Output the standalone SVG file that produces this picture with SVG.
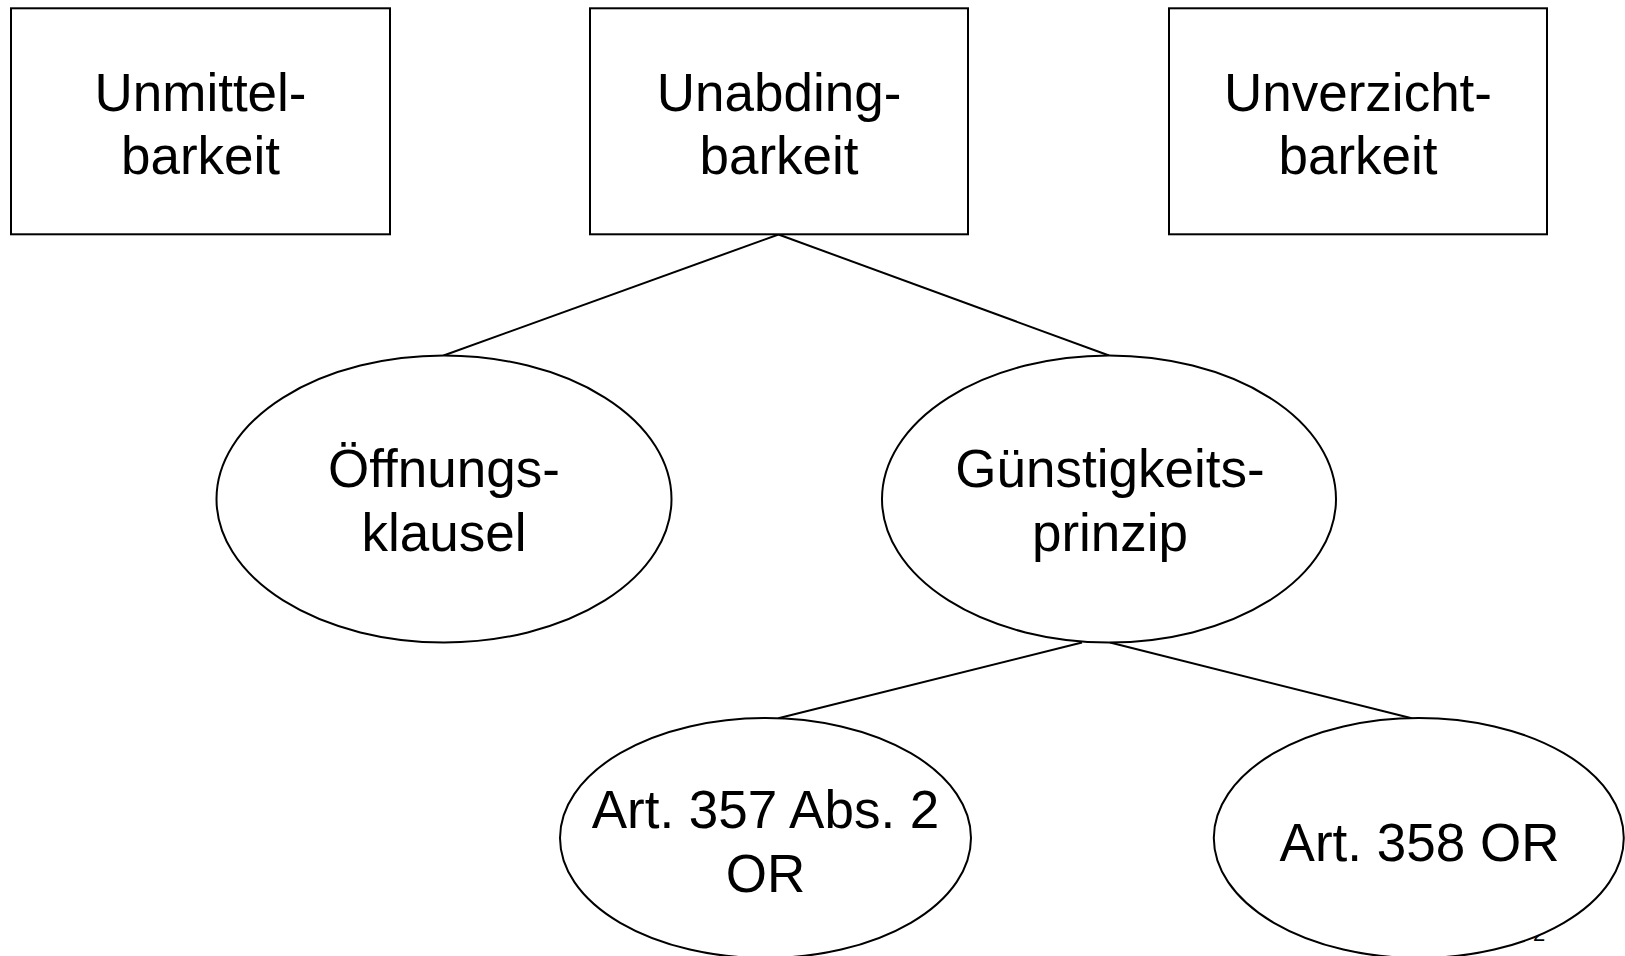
<svg xmlns="http://www.w3.org/2000/svg" width="1625" height="956" viewBox="0 0 1625 956">
<style>
.box{fill:#fff;stroke:#000;stroke-width:2}
.ell{fill:#fff;stroke:#000;stroke-width:2}
.conn{stroke:#000;stroke-width:2;fill:none}
.t{font-family:"Liberation Sans",Arial,sans-serif;font-size:53px;fill:#000;text-anchor:middle}
.pg{font-family:"Liberation Sans",Arial,sans-serif;font-size:22px;fill:#000}
</style>
<rect width="1625" height="956" fill="#fff"/>
<g id="connectors">
<line class="conn" x1="778.5" y1="234.5" x2="443.6" y2="355.5"/>
<line class="conn" x1="778.5" y1="234.5" x2="1109" y2="355.5"/>
<line class="conn" x1="1082" y1="642.5" x2="778.3" y2="718.3"/>
<line class="conn" x1="1110" y1="642.5" x2="1411.7" y2="718.3"/>
</g>
<g id="n1">
<rect class="box" x="11" y="8.3" width="379" height="226"/>
<text class="t" x="200.5" y="111">Unmittel-</text>
<text class="t" x="200.5" y="174">barkeit</text>
</g>
<g id="n2">
<rect class="box" x="590" y="8.3" width="378" height="226"/>
<text class="t" x="779" y="111">Unabding-</text>
<text class="t" x="779" y="174">barkeit</text>
</g>
<g id="n3">
<rect class="box" x="1169" y="8.3" width="378" height="226"/>
<text class="t" x="1358" y="111">Unverzicht-</text>
<text class="t" x="1358" y="174">barkeit</text>
</g>
<g id="n4">
<ellipse class="ell" cx="444" cy="499" rx="227.5" ry="143.5"/>
<text class="t" x="444" y="487">Öffnungs-</text>
<text class="t" x="444" y="551">klausel</text>
</g>
<g id="n5">
<ellipse class="ell" cx="1109" cy="499" rx="227" ry="143.5"/>
<text class="t" x="1110" y="487">Günstigkeits-</text>
<text class="t" x="1110" y="551">prinzip</text>
</g>
<g id="n6">
<ellipse class="ell" cx="765.5" cy="838" rx="205.5" ry="120"/>
<text class="t" x="765.5" y="828">Art. 357 Abs. 2</text>
<text class="t" x="765.5" y="892">OR</text>
</g>
<text class="pg" x="1533" y="941">2</text>
<g id="n7">
<ellipse class="ell" cx="1418.8" cy="838" rx="205" ry="120"/>
<text class="t" x="1419.5" y="860.7">Art. 358 OR</text>
</g>
</svg>
